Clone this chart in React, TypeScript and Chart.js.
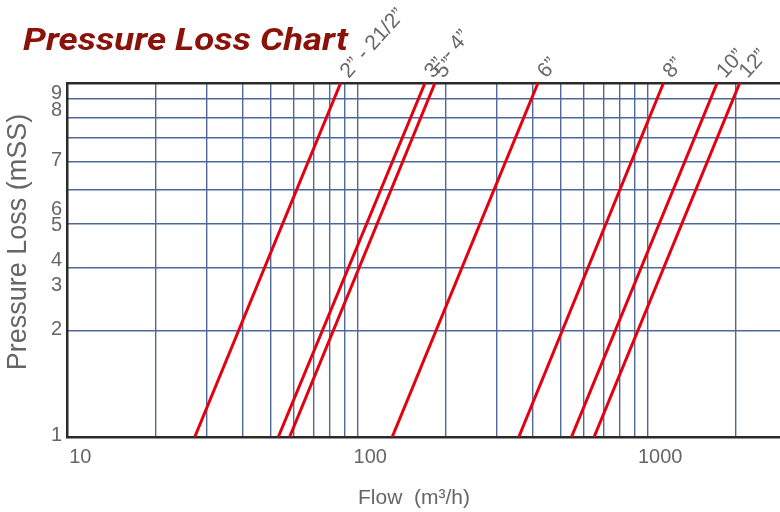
import { useEffect, useRef } from "react";
import { Chart, registerables } from "chart.js";

Chart.register(...registerables);

const chartTitle = "Pressure Loss Chart";
const xTitle = "Flow  (m³/h)";
const yTitle = "Pressure Loss (mSS)";

const seriesNames = ["2” - 21/2”", "3” - 4”", "5”", "6”", "8”", "10”", "12”"];
// flow (m³/h) where each line crosses 1 mSS and 10 mSS
const flowAtOne = [27.3, 53, 58, 131, 358, 544, 651];
const flowAtTen = [87, 170, 184, 417, 1130, 1730, 2070];
const lossRange = [1, 10];

const xGridValues = [10, 20, 30, 40, 50, 60, 70, 80, 90, 100, 200, 300, 400, 500, 600, 700, 800, 900, 1000, 2000];
const xLabelValues = [10, 100, 1000];
const yGridValues = [1, 2, 3, 4, 5, 6, 7, 8, 9, 10];
const yTickLabels = ["1", "2", "3", "4", "5", "6", "7", "8", "9"];
const yTickAnchors = [1.01, 2.01, 2.68, 3.15, 3.95, 4.39, 6.04, 8.36, 9.34];

const GRID = "#4d689b";
const AXIS = "#2a2a2a";
const TEXT = "#666666";
const RED = "#e3000f";
const SANS = '"Liberation Sans", Arial, sans-serif';

const textPlugin = {
  id: "textPlugin",
  afterDraw(chart: any) {
    const ctx = chart.ctx as CanvasRenderingContext2D;
    const area = chart.chartArea;
    ctx.save();
    // main title
    ctx.font = 'italic bold 31px Roboto, "Open Sans", sans-serif';
    ctx.fillStyle = "#8b1208";
    ctx.textAlign = "left";
    ctx.textBaseline = "alphabetic";
    const w = ctx.measureText(chartTitle).width;
    ctx.save();
    ctx.translate(23, 50);
    ctx.scale(325 / w, 1);
    ctx.fillText(chartTitle, 0, 0);
    ctx.restore();

    // y title
    ctx.save();
    ctx.translate(19, 242);
    ctx.rotate(-Math.PI / 2);
    ctx.font = "27px " + SANS;
    ctx.fillStyle = TEXT;
    ctx.textAlign = "center";
    ctx.textBaseline = "middle";
    ctx.fillText(yTitle, 0, 0);
    ctx.restore();

    // x title
    ctx.font = "21px " + SANS;
    ctx.fillStyle = TEXT;
    ctx.textAlign = "center";
    ctx.textBaseline = "middle";
    ctx.fillText(xTitle, 414, 498);

    // line labels
    chart.data.datasets.forEach((ds: any, i: number) => {
      const meta = chart.getDatasetMeta(i);
      const pt = meta.data[1];
      if (!pt) return;
      ctx.save();
      ctx.translate(pt.x + 8, area.top - 4);
      ctx.rotate((-48 * Math.PI) / 180);
      ctx.font = "21px " + SANS;
      ctx.fillStyle = TEXT;
      ctx.textAlign = "left";
      ctx.textBaseline = "alphabetic";
      ctx.fillText(ds.label, 0, 0);
      ctx.restore();
    });
    ctx.restore();
  },
};

export default function App() {
  const ref = useRef<HTMLCanvasElement | null>(null);

  useEffect(() => {
    if (!ref.current) return;
    const chart = new Chart(ref.current, {
      type: "scatter",
      data: {
        datasets: seriesNames.map((name, i) => ({
          label: name,
          data: [
            { x: flowAtOne[i], y: lossRange[0] },
            { x: flowAtTen[i], y: lossRange[1] },
          ],
          showLine: true,
          borderColor: RED,
          backgroundColor: RED,
          borderWidth: 3,
          pointRadius: 0,
          fill: false,
        })),
      },
      options: {
        animation: false,
        responsive: false,
        maintainAspectRatio: false,
        layout: { padding: { top: 83, right: 0, bottom: 0, left: 0 } },
        plugins: {
          legend: { display: false },
          tooltip: { enabled: false },
          title: { display: false },
        },
        scales: {
          x: {
            type: "logarithmic",
            min: 9.9,
            max: 2850,
            afterBuildTicks: (s: any) => {
              s.ticks = xGridValues.map((v) => ({ value: v }));
            },
            afterFit: (s: any) => {
              s.height = 75;
            },
            ticks: {
              autoSkip: false,
              maxRotation: 0,
              minRotation: 0,
              labelOffset: 12,
              padding: 8,
              color: TEXT,
              font: { family: SANS, size: 20 },
              callback: (v: any) => (xLabelValues.includes(Number(v)) ? String(v) : ""),
            },
            grid: {
              drawTicks: false,
              color: (c: any) => (c.tick && c.tick.value === 10 ? "rgba(0,0,0,0)" : GRID),
              lineWidth: 1.4,
            },
            border: { display: true, color: AXIS, width: 2.5 },
          },
          y: {
            type: "logarithmic",
            position: "left",
            min: lossRange[0],
            max: lossRange[1],
            afterBuildTicks: (s: any) => {
              s.ticks = yTickAnchors.map((v) => ({ value: v }));
            },
            afterFit: (s: any) => {
              s.width = 67;
            },
            ticks: {
              autoSkip: false,
              padding: 5,
              color: TEXT,
              font: { family: SANS, size: 20 },
              callback: (_v: any, i: number) => yTickLabels[i],
            },
            grid: { display: false, drawTicks: false },
            border: { display: true, color: AXIS, width: 2.5 },
          },
          yg: {
            type: "logarithmic",
            position: "left",
            min: lossRange[0],
            max: lossRange[1],
            afterBuildTicks: (s: any) => {
              s.ticks = yGridValues.map((v) => ({ value: v }));
            },
            afterFit: (s: any) => {
              s.width = 0;
            },
            ticks: { display: false },
            grid: {
              drawTicks: false,
              color: (c: any) =>
                c.tick && c.tick.value === 10 ? AXIS : c.tick && c.tick.value === 1 ? "rgba(0,0,0,0)" : GRID,
              lineWidth: (c: any) => (c.tick && c.tick.value === 10 ? 2.5 : 1.4),
            },
            border: { display: false },
          },
        },
      } as any,
      plugins: [textPlugin],
    });
    return () => chart.destroy();
  }, []);

  return (
    <div style={{ position: "absolute", left: 0, top: 0, width: 780, height: 512, background: "#fff" }}>
      <canvas ref={ref} width={780} height={512} style={{ width: 780, height: 512, display: "block" }} />
    </div>
  );
}
